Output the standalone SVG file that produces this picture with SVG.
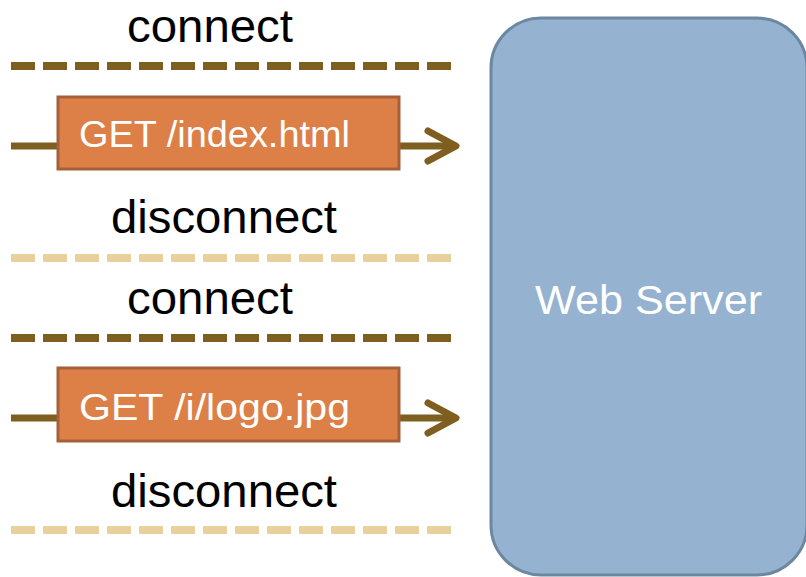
<svg xmlns="http://www.w3.org/2000/svg" width="806" height="577" viewBox="0 0 806 577">
<style>
.lbl{font-family:"Liberation Sans",Arial,sans-serif;font-size:46px;fill:#000}
.req{font-family:"Liberation Sans",Arial,sans-serif;font-size:36px;fill:#fff}
.dash-dark{stroke:#7F5F20;stroke-width:8;stroke-dasharray:24 8;fill:none}
.dash-light{stroke:#E8D09C;stroke-width:8;stroke-dasharray:24 8;fill:none}
.wire{stroke:#7F5F20;stroke-width:7;fill:none}
.head{stroke:#7F5F20;stroke-width:7;fill:none;stroke-linecap:round;stroke-linejoin:round}
.box{fill:#DD8048;stroke:#A5603A;stroke-width:3}
</style>
<g id="server">
<rect x="491" y="18" width="316" height="557" rx="50" ry="50" fill="#95B3D0" stroke="#6C87A0" stroke-width="3"/>
<text x="535" y="314" font-family="'Liberation Sans',Arial,sans-serif" font-size="40" fill="#fff" textLength="227" lengthAdjust="spacingAndGlyphs">Web Server</text>
</g>
<g id="connectors">
<line class="dash-dark" x1="11" y1="66" x2="451" y2="66"/>
<line class="dash-light" x1="11" y1="258" x2="451" y2="258"/>
<line class="dash-dark" x1="11" y1="338" x2="451" y2="338"/>
<line class="dash-light" x1="11" y1="530" x2="451" y2="530"/>
<line class="wire" x1="11" y1="146" x2="58" y2="146"/>
<line class="wire" x1="399" y1="146" x2="454" y2="146"/>
<polyline class="head" points="428,131 456,146 428,161"/>
<line class="wire" x1="11" y1="418" x2="58" y2="418"/>
<line class="wire" x1="399" y1="418" x2="454" y2="418"/>
<polyline class="head" points="428,403 456,418 428,433"/>
</g>
<g id="label-connect-1"><text class="lbl" x="127" y="42" textLength="166" lengthAdjust="spacingAndGlyphs">connect</text></g>
<g id="req-1">
<rect class="box" x="58" y="97" width="341" height="72"/>
<text class="req" x="79" y="147" textLength="271" lengthAdjust="spacingAndGlyphs">GET /index.html</text>
</g>
<g id="label-disconnect-1"><text class="lbl" x="111" y="233" textLength="226" lengthAdjust="spacingAndGlyphs">disconnect</text></g>
<g id="label-connect-2"><text class="lbl" x="127" y="314" textLength="166" lengthAdjust="spacingAndGlyphs">connect</text></g>
<g id="req-2">
<rect class="box" x="58" y="368" width="341" height="73"/>
<text class="req" x="79" y="420" textLength="271" lengthAdjust="spacingAndGlyphs">GET /i/logo.jpg</text>
</g>
<g id="label-disconnect-2"><text class="lbl" x="111" y="507" textLength="226" lengthAdjust="spacingAndGlyphs">disconnect</text></g>
</svg>
